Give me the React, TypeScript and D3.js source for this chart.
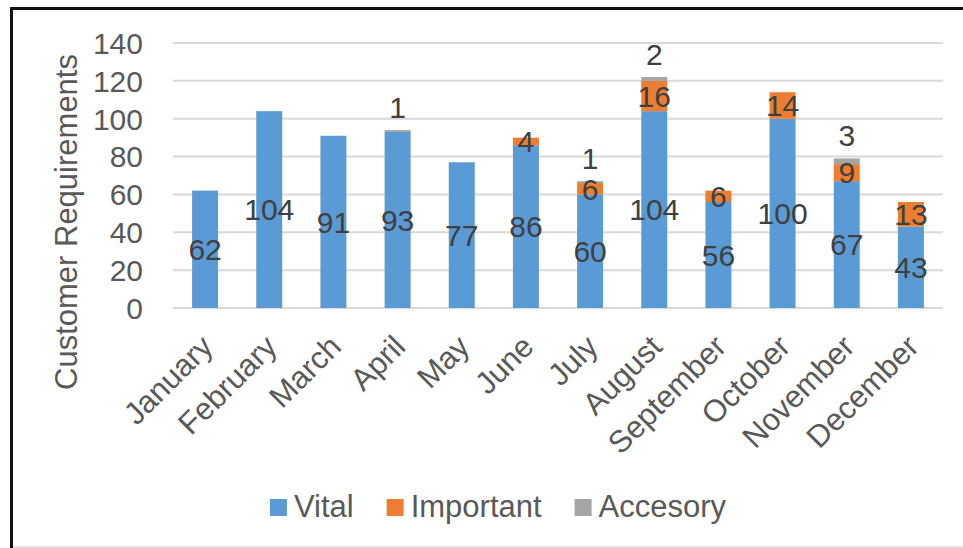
import React from "react";
import * as d3 from "d3";

const months = ["January", "February", "March", "April", "May", "June", "July", "August", "September", "October", "November", "December"];
const vital = [62, 104, 91, 93, 77, 86, 60, 104, 56, 100, 67, 43];
const important = [0, 0, 0, 0, 0, 4, 6, 16, 6, 14, 9, 13];
const accesory = [0, 0, 0, 1, 0, 0, 1, 2, 0, 0, 3, 0];
const seriesNames = ["Vital", "Important", "Accesory"];
const yTicks = [0, 20, 40, 60, 80, 100, 120, 140];

const colors = ["#5B9BD5", "#ED7D31", "#A5A5A5"];
const W = 963;
const H = 548;
const FONT = "'Liberation Sans', Arial, sans-serif";
const LABEL = "#404040";
const AXIS = "#595959";

const plot = { left: 173, right: 943, top: 43, bottom: 308 };

function textWidth(t: string, size: number) {
  const c = document.createElement("canvas").getContext("2d");
  if (!c) return t.length * size * 0.55;
  c.font = `${size}px 'Liberation Sans', Arial, sans-serif`;
  return c.measureText(t).width;
}

export default function App() {
  const rows = months.map((m, i) => ({ month: m, Vital: vital[i], Important: important[i], Accesory: accesory[i] }));
  const stacked = d3.stack<any>().keys(seriesNames)(rows);

  const x = d3.scaleBand<string>().domain(months).range([plot.left, plot.right]).paddingInner(0.595).paddingOuter(0.2975);
  const y = d3.scaleLinear().domain([0, 140]).range([plot.bottom, plot.top]);

  // legend layout
  const legendSize = 31;
  const sw = 17;
  const items = seriesNames.map((n) => ({ n, w: sw + 7 + textWidth(n, legendSize) }));
  const gap = 33;
  const total = d3.sum(items, (d) => d.w) + gap * (items.length - 1);
  let lx = 498 - total / 2;
  const legendItems = items.map((it, i) => {
    const r = { ...it, x: lx, i };
    lx += it.w + gap;
    return r;
  });

  return (
    <svg width={W} height={H} style={{ position: "absolute", left: 0, top: 0, background: "#fff" }} fontFamily={FONT}>
      <rect x={0} y={0} width={W} height={H} fill="#fff" />
      {/* frame */}
      <line x1={10} x2={W} y1={8.5} y2={8.5} stroke="#111" strokeWidth={3} />
      <line x1={11.5} x2={11.5} y1={7} y2={H} stroke="#111" strokeWidth={3} />
      <line x1={13} x2={W} y1={547} y2={547} stroke="#D9D9D9" strokeWidth={1.5} />

      {/* gridlines */}
      {yTicks.map((t) => (
        <line key={t} x1={plot.left} x2={plot.right} y1={y(t)} y2={y(t)} stroke="#D9D9D9" strokeWidth={2} />
      ))}

      {/* y tick labels */}
      {yTicks.map((t) => (
        <text key={t} x={143} y={y(t)} dy="0.36em" textAnchor="end" fontSize={30} fill={AXIS}>
          {t}
        </text>
      ))}

      {/* y axis title */}
      <text transform={`translate(77,222) rotate(-90)`} textAnchor="middle" fontSize={31} fill={AXIS}>
        Customer Requirements
      </text>

      {/* bars */}
      {stacked.map((s, si) => (
        <g key={s.key} fill={colors[si]}>
          {s.map((d, i) =>
            d[1] - d[0] > 0 ? (
              <rect key={i} x={x(months[i])} width={x.bandwidth()} y={y(d[1])} height={y(d[0]) - y(d[1])} />
            ) : null
          )}
        </g>
      ))}

      {/* data labels */}
      {stacked.map((s, si) => (
        <g key={s.key} fontSize={30} fill={LABEL} textAnchor="middle">
          {s.map((d, i) => {
            const v = d[1] - d[0];
            if (v <= 0) return null;
            const cx = (x(months[i]) as number) + x.bandwidth() / 2;
            const cy = si === 2 ? y(d[1]) - 23 : y((d[0] + d[1]) / 2);
            return (
              <text key={i} x={cx} y={cy} dy="0.36em">
                {v}
              </text>
            );
          })}
        </g>
      ))}

      {/* month labels */}
      {months.map((m) => {
        const cx = (x(m) as number) + x.bandwidth() / 2;
        return (
          <text key={m} transform={`translate(${cx - 6},${333}) rotate(-45)`} textAnchor="end" dy="0.71em" fontSize={31} fill={AXIS}>
            {m}
          </text>
        );
      })}

      {/* legend */}
      {legendItems.map((it) => (
        <g key={it.n} transform={`translate(${it.x},0)`}>
          <rect x={0} y={499} width={sw} height={sw} fill={colors[it.i]} />
          <text x={sw + 7} y={517} fontSize={legendSize} fill={AXIS}>
            {it.n}
          </text>
        </g>
      ))}
    </svg>
  );
}
